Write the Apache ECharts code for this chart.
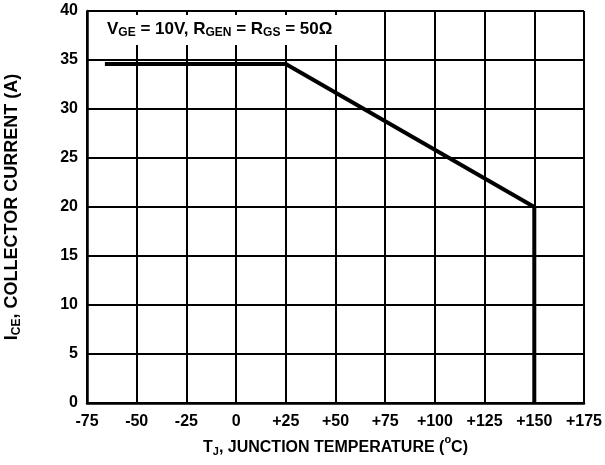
<!DOCTYPE html>
<html>
<head>
<meta charset="utf-8">
<script src="https://cdn.jsdelivr.net/npm/echarts@6/dist/echarts.min.js"></script>
<style>
  html, body { margin: 0; padding: 0; background: #fff; }
  #chart { width: 605px; height: 465px; }
</style>
</head>
<body>
<div id="chart"></div>
<script>
// derating curve
const tempC = [-66, 25, 150, 150]
const currentA = [34.6, 34.6, 20, 0]
const xTicks = { min: -75, max: 175, step: 25 }
const yTicks = { min: 0, max: 40, step: 5 }

const FONT = 'Liberation Sans, Arial, sans-serif'
const chart = echarts.init(document.getElementById('chart'))

const points = tempC.map((t, i) => [t, currentA[i]])

const bold = (size, extra) => Object.assign({ fontFamily: FONT, fontWeight: 'bold', fontSize: size, color: '#000' }, extra)

const option = {
  animation: false,
  backgroundColor: '#fff',
  textStyle: { fontFamily: FONT },
  title: {
    left: 89,
    top: 14,
    padding: [6, 12, 6, 18],
    backgroundColor: '#fff',
    text: '{n|V}{s|GE}{n| = 10V, R}{s|GEN}{n| = R}{s|GS}{n| = 50Ω}',
    textStyle: {
      rich: {
        n: bold(17),
        s: bold(12, { padding: [7, 0, 0, 0] })
      }
    }
  },
  grid: { left: 87, right: 21, top: 11, bottom: 62, containLabel: false, outerBoundsMode: 'none' },
  xAxis: {
    type: 'value',
    min: xTicks.min,
    max: xTicks.max,
    interval: xTicks.step,
    name: '{n|T}{s|J}{n|, JUNCTION TEMPERATURE (}{p|o}{n|C)}',
    nameLocation: 'middle',
    nameGap: 31,
    nameTextStyle: {
      rich: {
        n: bold(16),
        s: bold(11, { padding: [9, 0, 0, 0] }),
        p: bold(11, { verticalAlign: 'top', padding: [0, 0, 14, 0] })
      }
    },
    axisLine: { onZero: false, lineStyle: { color: '#000', width: 2.5 } },
    axisTick: { show: false },
    axisLabel: Object.assign(bold(16), {
      margin: 11,
      formatter: v => (v > 0 ? '+' + v : String(v))
    }),
    splitLine: { show: true, lineStyle: { color: '#000', width: 2 } }
  },
  yAxis: {
    type: 'value',
    min: yTicks.min,
    max: yTicks.max,
    interval: yTicks.step,
    name: '{n|I}{s|CE}{n|, COLLECTOR CURRENT (A)}',
    nameLocation: 'middle',
    nameGap: 64,
    nameTextStyle: {
      rich: {
        n: bold(18),
        s: bold(12, { padding: [9, 0, 0, 0] })
      }
    },
    axisLine: { show: true, onZero: false, lineStyle: { color: '#000', width: 2.5 } },
    axisTick: { show: false },
    axisLabel: Object.assign(bold(16), { margin: 9 }),
    splitLine: { show: true, lineStyle: { color: '#000', width: 2 } }
  },
  series: [
    {
      type: 'line',
      data: points,
      symbol: 'none',
      z: 1,
      lineStyle: { color: '#000', width: 4 }
    }
  ]
}

chart.setOption(option)
</script>
</body>
</html>
